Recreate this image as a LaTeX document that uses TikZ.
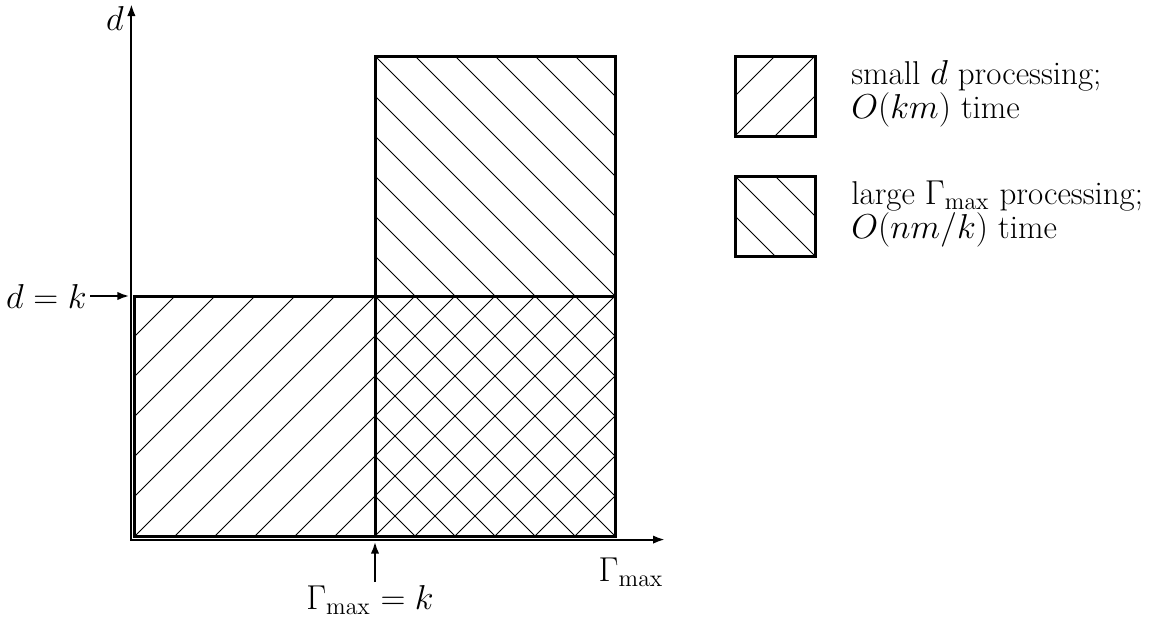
\documentclass[tikz,border=0pt]{standalone}
\usetikzlibrary{arrows.meta}
\begin{document}
\begin{tikzpicture}[x=20pt,y=20pt,
  frame/.style={line width=1.5pt},
  axis/.style={line width=1.1pt},
  tip/.style={-{Latex[length=6pt,width=4.2pt]}},
  hatch/.style={line width=0.5pt},
  lbl/.style={font=\fontsize{16.5}{16}\selectfont, inner sep=0pt}]
\useasboundingbox (-3.375,-2.05) rectangle (25.6,13.4);

% hatching bottom-left
\begin{scope}
\clip (0,0) rectangle (6,6);
\foreach \i in {-6,...,6} \draw[hatch] (\i,0) -- ++(6,6);
\end{scope}
% hatching bottom-right (cross)
\begin{scope}
\clip (6,0) rectangle (12,6);
\foreach \i in {-6,...,6} \draw[hatch] (6+\i,0) -- ++(6,6);
\foreach \i in {0,...,12} \draw[hatch] (6+\i,0) -- ++(-6,6);
\end{scope}
% hatching top-right
\begin{scope}
\clip (6,6) rectangle (12,12);
\foreach \i in {0,...,12} \draw[hatch] (6+\i,6) -- ++(-6,6);
\end{scope}
% frames
\draw[frame] (0,0) rectangle (12,6);
\draw[frame] (6,0) rectangle (12,12);

% axes
\coordinate (o) at (-0.09,-0.09);
\coordinate (ytip) at (-0.09,13.3);
\coordinate (xtip) at (13.25,-0.09);
\draw[axis,{Latex[length=6pt,width=4.2pt]}-{Latex[length=6pt,width=4.2pt]}] (ytip) -- (o) -- (xtip);

% labels
\node[lbl] (dlab) at (-0.5,12.95) {$d$};
\node[lbl] (glab) at (12.4,-0.9) {$\Gamma_{\max}$};
\node[lbl, anchor=east] (dk) at (-1.2,6) {$d=k$};
\coordinate (dkend) at (-0.14,6);
\draw[axis,tip] (dk.east) ++(0.08,0) -- (dkend);
\node[lbl] (gk) at (5.875,-1.6) {$\Gamma_{\max}=k$};
\coordinate (gkend) at (6,-0.14);
\coordinate (gkstart) at (6,-1.15);
\draw[axis,tip] (gkstart) -- (gkend);

% legend box 1
\begin{scope}
\clip (15,10) rectangle (17,12);
\draw[hatch] (15,10) -- (17,12);
\draw[hatch] (15,11) -- (16,12);
\draw[hatch] (16,10) -- (17,11);
\end{scope}
\draw[frame] (15,10) rectangle (17,12);
\node[lbl, anchor=base west] (l1a) at (17.9,11.3) {small $d$ processing;};
\node[lbl, anchor=base west] (l1b) at (17.9,10.45) {$O(km)$ time};

% legend box 2
\begin{scope}
\clip (15,7) rectangle (17,9);
\draw[hatch] (15,9) -- (17,7);
\draw[hatch] (15,8) -- (16,7);
\draw[hatch] (16,9) -- (17,8);
\end{scope}
\draw[frame] (15,7) rectangle (17,9);
\node[lbl, anchor=base west] (l2a) at (17.9,8.3) {large $\Gamma_{\max}$ processing;};
\node[lbl, anchor=base west] (l2b) at (17.9,7.45) {$O(nm/k)$ time};
\end{tikzpicture}
\end{document}
